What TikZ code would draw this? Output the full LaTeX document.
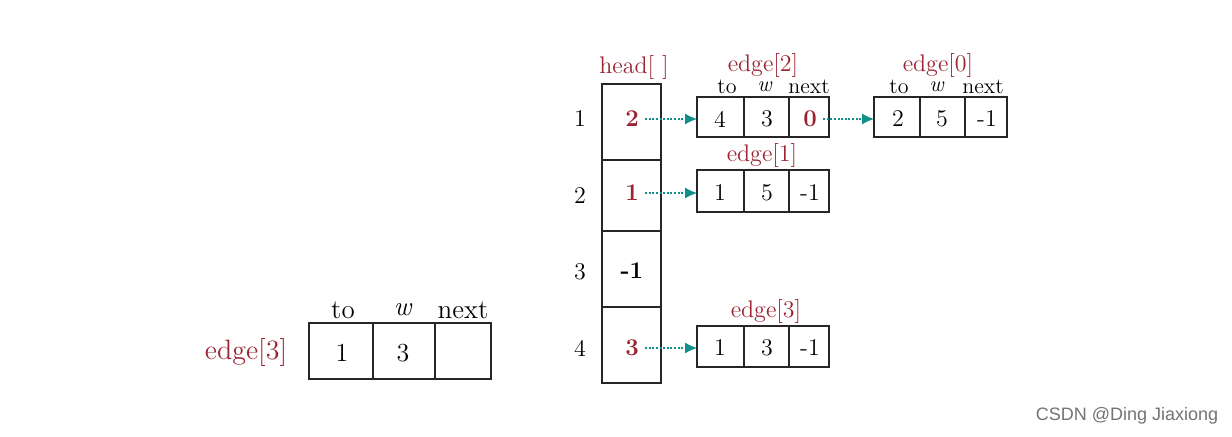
\documentclass[tikz,border=0pt]{standalone}
\usepackage{fontspec}
\newfontfamily\markfont{Liberation Sans}
\usetikzlibrary{arrows.meta}
\begin{document}
\begin{tikzpicture}[x=0.5pt,y=-0.5pt,font=\fontsize{12}{14}\selectfont]
  \definecolor{headred}{HTML}{9A2430}
  \definecolor{linkteal}{HTML}{11908A}
  \tikzset{
    box/.style={line width=0.9pt,draw=black!85},
    val/.style={inner sep=1pt},
    redval/.style={inner sep=1pt,text=headred,font=\fontsize{12}{14}\selectfont\bfseries},
    field/.style={inner sep=0pt,font=\fontsize{11}{12}\selectfont},
    title/.style={inner sep=0pt,text=headred,font=\fontsize{12}{14}\selectfont},
    link/.style={draw=linkteal,line width=0.6pt,dash pattern=on 1pt off 0.8pt,
      -{Latex[length=6pt,width=5.5pt]}}
  }
  \useasboundingbox (0,0) rectangle (1232,436);

  % left: one edge record
  \draw[box] (309,323) rectangle (491,379);
  \draw[box] (373,323) -- (373,379);
  \draw[box] (435,323) -- (435,379);
  \node[title,font=\fontsize{14}{16}\selectfont] (lefttitle) at (246,352) {edge[3]};
  \node[field,font=\fontsize{13.5}{16}\selectfont] (leftto) at (343,310) {to};
  \node[field,font=\fontsize{13.5}{16}\selectfont] (leftw) at (403,310) {\textit{w}};
  \node[field,font=\fontsize{13.5}{16}\selectfont] (leftnext) at (463,310) {next};
  \node[val,font=\fontsize{13}{16}\selectfont] (leftone) at (342,353) {1};
  \node[val,font=\fontsize{13}{16}\selectfont] (leftthree) at (403,353) {3};

  % head[] column
  \draw[box] (602,84) rectangle (661,383);
  \foreach \y in {160,231,307} {
    \draw[box] (602,\y) -- (661,\y);
  }
  \node[title] (headtitle) at (634,67) {head[\,\,]};
  \node[val] (rowa) at (580,119) {1};
  \node[val] (rowb) at (580,196) {2};
  \node[val] (rowc) at (580,272) {3};
  \node[val] (rowd) at (580,348) {4};
  \node[redval] (heada) at (632,119) {2};
  \node[redval] (headb) at (632,193) {1};
  \node[val,font=\fontsize{12}{14}\selectfont\bfseries] (headc) at (632,271) {-1};
  \node[redval] (headd) at (632,348) {3};

  % edge[2]
  \draw[box] (697,97) rectangle (829,137);
  \draw[box] (744,97) -- (744,137);
  \draw[box] (789,97) -- (789,137);
  \coordinate (edgetwo) at (697,118);
  \node[title] (edgetwotitle) at (763,65) {edge[2]};
  \node[field] at (727,87) {to};
  \node[field] at (765,87) {\textit{w}};
  \node[field] at (809,87) {next};
  \node[val] at (720,119) {4};
  \node[val] at (767,119) {3};
  \node[redval] (edgetwonext) at (810,119) {0};

  % edge[0]
  \draw[box] (874,97) rectangle (1007,137);
  \draw[box] (920,97) -- (920,137);
  \draw[box] (965,97) -- (965,137);
  \coordinate (edgezero) at (874,118);
  \node[title] (edgezerotitle) at (938,65) {edge[0]};
  \node[field] at (899,87) {to};
  \node[field] at (937,87) {\textit{w}};
  \node[field] at (983,87) {next};
  \node[val] at (898,119) {2};
  \node[val] at (942,119) {5};
  \node[val] at (987,119) {-1};

  % edge[1]
  \draw[box] (697,170) rectangle (829,212);
  \draw[box] (744,170) -- (744,212);
  \draw[box] (789,170) -- (789,212);
  \coordinate (edgeone) at (697,192);
  \node[title] (edgeonetitle) at (762,155) {edge[1]};
  \node[val] at (720,193) {1};
  \node[val] at (767,193) {5};
  \node[val] at (810,193) {-1};

  % edge[3]
  \draw[box] (697,326) rectangle (829,367);
  \draw[box] (744,326) -- (744,367);
  \draw[box] (789,326) -- (789,367);
  \coordinate (edgethree) at (697,348);
  \node[title] (edgethreetitle) at (766,311) {edge[3]};
  \node[val] at (720,348) {1};
  \node[val] at (767,348) {3};
  \node[val] at (810,348) {-1};

  % links
  \draw[link] ([xshift=2pt]heada.east) -- (heada.east -| edgetwo);
  \draw[link] ([xshift=2pt]edgetwonext.east) -- (edgetwonext.east -| edgezero);
  \draw[link] ([xshift=2pt]headb.east) -- (headb.east -| edgeone);
  \draw[link] ([xshift=2pt]headd.east) -- (headd.east -| edgethree);

  \node[font=\markfont\fontsize{9}{10}\selectfont,text=black!55] (mark) at (1127,416) {CSDN @Ding Jiaxiong};
\end{tikzpicture}
\end{document}
